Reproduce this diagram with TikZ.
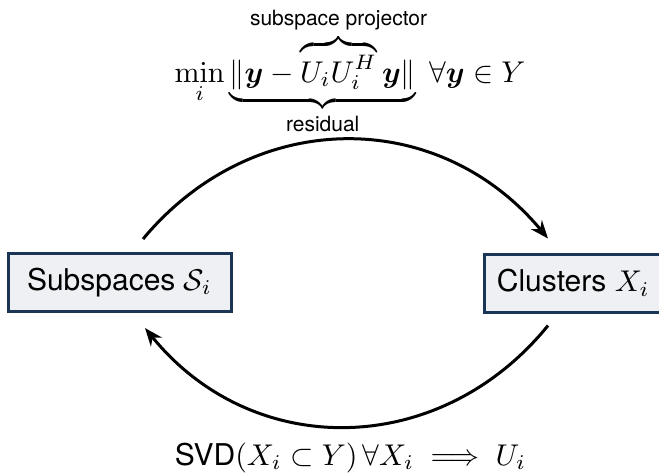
\documentclass[tikz,border=0pt]{standalone}
\usepackage{amsmath}
\usepackage{bm}
\usepackage[no-math]{fontspec}
\setmainfont{TeX Gyre Heros}
\usetikzlibrary{arrows.meta,calc}
\definecolor{boxfill}{HTML}{EEF0F4}
\definecolor{boxline}{HTML}{1B3557}
\tikzset{
  setbox/.style={draw=boxline, fill=boxfill, line width=1pt, inner sep=0pt,
    minimum height=19.33pt, font=\normalsize},
  cyclearrow/.style={line width=1pt, -{Stealth[length=6pt,width=4.7pt]}},
  bigtext/.style={inner sep=0pt, font=\normalsize}
}
\begin{document}
\begin{tikzpicture}[x=0.33333pt,y=-0.33333pt]
\useasboundingbox (0,0) rectangle (659,473);
\node[setbox, minimum width=74.33pt] (sub) at (119.5,282.5) {Subspaces $\mathcal{S}_i$};
\node[setbox, minimum width=60.67pt, anchor=west] (clu) at (483,283) {\hspace*{1.5pt}Clusters $X_i$\hspace*{3pt}};
\node[bigtext, anchor=base] (obj) at (350,82)
  {$\displaystyle \min_i \underbrace{\|\bm{y} - \overbrace{U_i U_i^H}^{\text{\makebox[0pt]{subspace projector}}} \bm{y}\|}_{\text{\makebox[0pt]{residual}}} \ \forall \bm{y} \in Y$};
\node[bigtext, anchor=base] (svd) at (350.5,465)
  {SVD$(X_i \subset Y)\,\forall X_i \implies U_i$};
\coordinate (topstart) at ($(sub.north)+(23.5,-13)$);
\coordinate (topend) at ($(clu.north west)+(65,-14)$);
\coordinate (botstart) at ($(clu.south west)+(65,12)$);
\coordinate (botend) at ($(sub.south)+(25.5,15)$);
\draw[cyclearrow] (topstart) .. controls +(110,-132) and +(-110,-132) .. (topend);
\draw[cyclearrow] (botstart) .. controls +(-108,133) and +(108,133) .. (botend);
\end{tikzpicture}
\end{document}
